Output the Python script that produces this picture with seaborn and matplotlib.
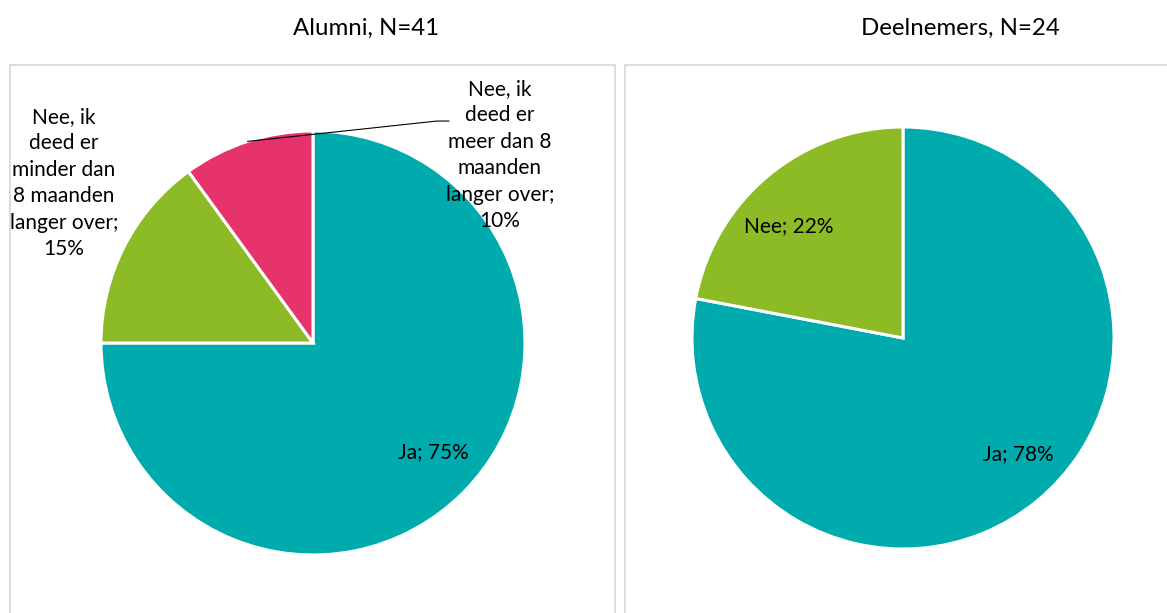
import matplotlib
matplotlib.use("Agg")
import matplotlib.pyplot as plt
from matplotlib.patches import Rectangle
import seaborn as sns

# Survey answers per group (percentages)
alumni_labels = ["Ja", "Nee, ik\ndeed er\nminder dan\n8 maanden\nlanger over", "Nee, ik\ndeed er\nmeer dan 8\nmaanden\nlanger over"]
alumni_values = [75, 15, 10]
deelnemers_labels = ["Ja", "Nee"]
deelnemers_values = [78, 22]
titles = ["Alumni, N=41", "Deelnemers, N=24"]

sns.set_theme(style="white")
plt.rcParams["font.family"] = ["Lato", "DejaVu Sans"]
plt.rcParams["text.color"] = "black"

palette = sns.color_palette(["#00ABAE", "#8CBB26", "#E7336B"])

W, H = 1167, 613
fig = plt.figure(figsize=(W / 100, H / 100), dpi=100)


def frac_box(x0, y0, x1, y1):
    """Pixel box (top-left origin) -> figure fraction [l, b, w, h]."""
    return [x0 / W, 1 - y1 / H, (x1 - x0) / W, (y1 - y0) / H]


# chart-area frames
for x0, x1 in [(10, 615), (625, 1175)]:
    fig.patches.append(Rectangle((x0 / W, -0.05), (x1 - x0) / W, 1 - 65 / H + 0.05,
                                 transform=fig.transFigure, fill=False,
                                 edgecolor="#D9D9D9", linewidth=1.3))

fig.text(366 / W, 1 - 28 / H, titles[0], ha="center", va="center", fontsize=17.3)
fig.text(960 / W, 1 - 28 / H, titles[1], ha="center", va="center", fontsize=17.3)

wedge_kw = dict(edgecolor="white", linewidth=2.2)
txt_kw = dict(fontsize=15, ha="center", va="center", linespacing=1.4, clip_on=False)

# Alumni pie
ax1 = fig.add_axes(frac_box(101, 131, 525, 555))
ax1.pie(alumni_values, colors=palette[:3], startangle=90, counterclock=False,
        radius=1, wedgeprops=wedge_kw)
ax1.set_xlim(-1, 1)
ax1.set_ylim(-1, 1)
ax1.axis("off")
ax1.text(0.566, -0.514, f"{alumni_labels[0]}; {alumni_values[0]}%", **txt_kw)
ax1.text(-1.175, 0.755, f"{alumni_labels[1]};\n{alumni_values[1]}%", **txt_kw)
ax1.text(0.882, 0.887, f"{alumni_labels[2]};\n{alumni_values[2]}%", **txt_kw)
ax1.plot([-0.309, 0.585, 0.642], [0.951, 1.047, 1.047], color="black",
         linewidth=0.8, clip_on=False)

# Deelnemers pie
ax2 = fig.add_axes(frac_box(692, 127, 1114, 549))
ax2.pie(deelnemers_values, colors=palette[:2], startangle=90, counterclock=False,
        radius=1, wedgeprops=wedge_kw)
ax2.set_xlim(-1, 1)
ax2.set_ylim(-1, 1)
ax2.axis("off")
ax2.text(0.545, -0.550, f"{deelnemers_labels[0]}; {deelnemers_values[0]}%", **txt_kw)
ax2.text(-0.540, 0.531, f"{deelnemers_labels[1]}; {deelnemers_values[1]}%", **txt_kw)

fig.savefig("out.png", dpi=100, facecolor="white")
